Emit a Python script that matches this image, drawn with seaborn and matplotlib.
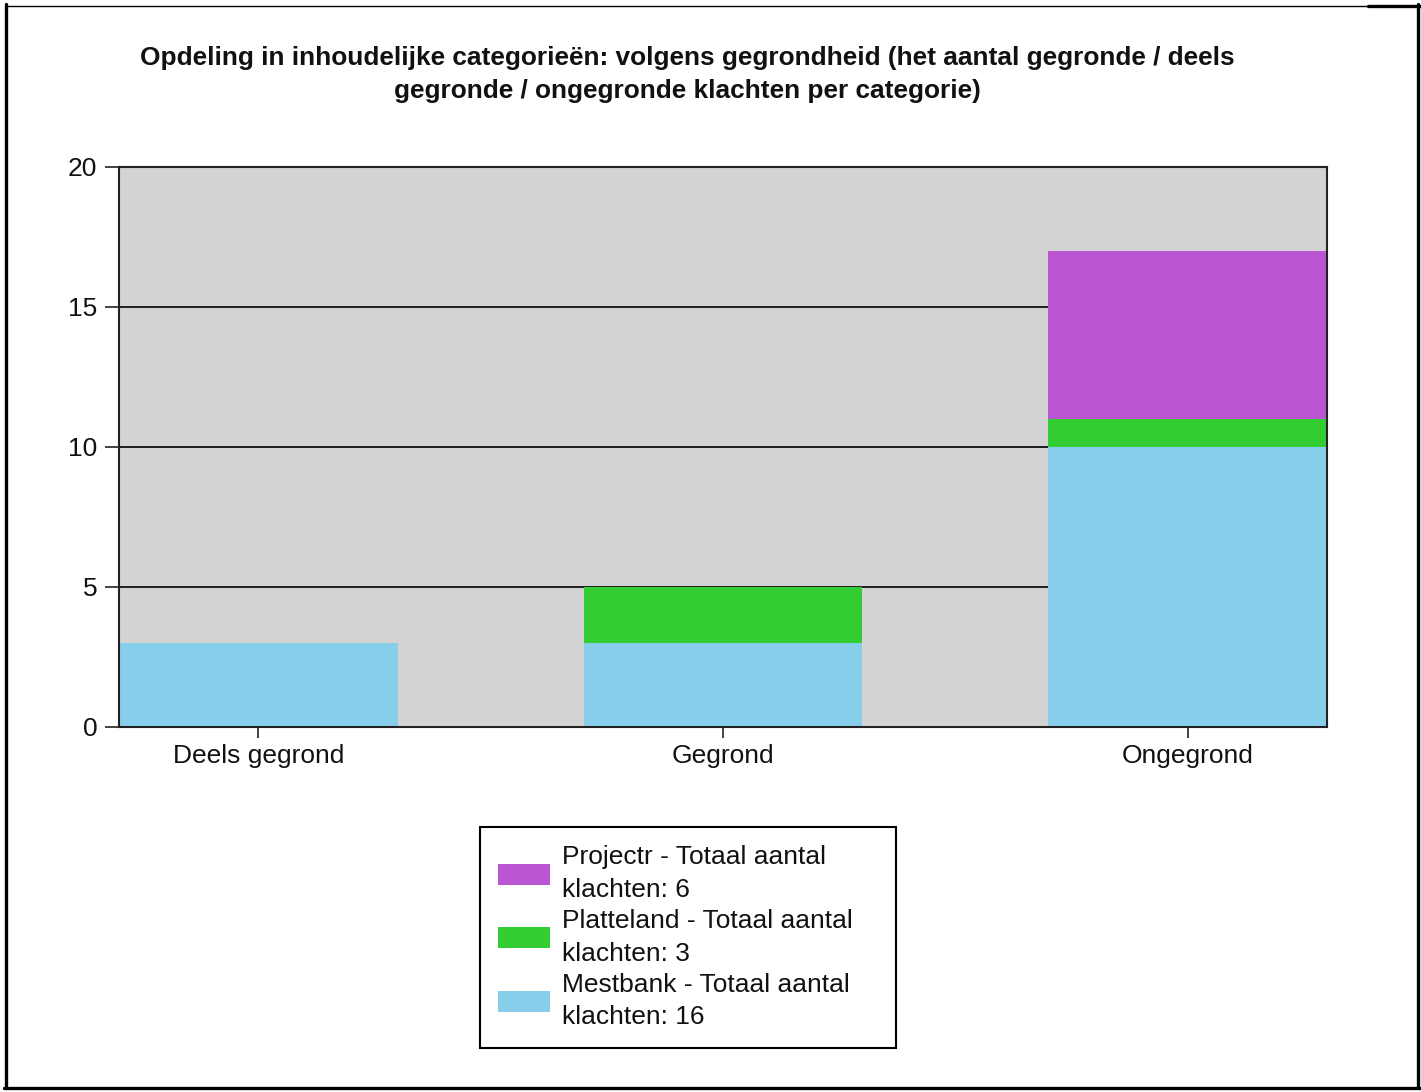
import matplotlib
matplotlib.use('Agg')
import matplotlib.pyplot as plt
from matplotlib.lines import Line2D
from matplotlib.patches import Patch
import seaborn as sns
import pandas as pd

# data
categories = ['Deels gegrond', 'Gegrond', 'Ongegrond']
mestbank = [3, 3, 10]
platteland = [0, 2, 1]
projectr = [0, 0, 6]

series_names = ['Projectr', 'Platteland', 'Mestbank']
colors = {'Projectr': '#BA55D3', 'Platteland': '#32CD32', 'Mestbank': '#87CEEB'}

title = ('Opdeling in inhoudelijke categorieën: volgens gegrondheid (het aantal gegronde / deels\n'
         'gegronde / ongegronde klachten per categorie)')

sns.set_theme(style='white')
plt.rcParams['font.family'] = ['Liberation Sans', 'DejaVu Sans']

df = pd.DataFrame({'categorie': categories, 'Mestbank': mestbank,
                   'Platteland': platteland, 'Projectr': projectr})
# cumulative heights for stacking (tallest drawn first)
df['top'] = df['Mestbank'] + df['Platteland'] + df['Projectr']
df['mid'] = df['Mestbank'] + df['Platteland']

W, H = 1421, 1092
fig = plt.figure(figsize=(W / 100, H / 100), dpi=100)
ax = fig.add_axes([119 / W, 1 - 727 / H, 1208 / W, 560 / H])
ax.set_facecolor('#D3D3D3')

for col, name in [('top', 'Projectr'), ('mid', 'Platteland'), ('Mestbank', 'Mestbank')]:
    sns.barplot(data=df, x='categorie', y=col, color=colors[name], width=0.6,
                saturation=1, errorbar=None, linewidth=0, edgecolor='none', ax=ax)

ax.set_xlim(-0.3, 2.3)
ax.set_ylim(0, 20)
ax.set_yticks([0, 5, 10, 15, 20])
ax.set_xlabel('')
ax.set_ylabel('')
ax.set_axisbelow(True)
ax.yaxis.grid(True, color='black', linewidth=1.2)
ax.xaxis.grid(False)
for s in ax.spines.values():
    s.set_color('#222222')
    s.set_linewidth(1.5)
ax.tick_params(axis='both', which='both', direction='out', width=1.2,
               color='#222222', labelsize=19, labelcolor='#111111')
ax.tick_params(axis='y', length=10, pad=5.5, left=True)
ax.tick_params(axis='x', length=8, pad=4, bottom=True)

fig.text(687 / W, 1 - 74.5 / H, title, ha='center', va='center', multialignment='center',
         fontsize=18.9, fontweight='bold', color='#111111', linespacing=1.48)

totals = {'Projectr': sum(projectr), 'Platteland': sum(platteland), 'Mestbank': sum(mestbank)}
handles = [Patch(facecolor=colors[n], edgecolor='none') for n in series_names]
labels = [f'{n} - Totaal aantal\nklachten: {totals[n]}' for n in series_names]
leg = fig.legend(handles, labels, loc='upper left',
                 bbox_to_anchor=(480 / W, 1 - 827 / H, 416 / W, 0.0),
                 mode='expand', fontsize=19, frameon=True, fancybox=False,
                 edgecolor='black', framealpha=1, handlelength=1.97, handleheight=0.83,
                 handletextpad=0.45, labelspacing=0.25, borderpad=0.7, borderaxespad=0)
leg.get_frame().set_linewidth(1.5)
for t in leg.get_texts():
    t.set_color('#111111')
    t.set_linespacing(1.47)

# outer frame of the picture
def fline(x0, y0, x1, y1, lw):
    fig.add_artist(Line2D([x0 / W, x1 / W], [1 - y0 / H, 1 - y1 / H],
                          transform=fig.transFigure, color='black', linewidth=lw))

fline(5.5, 5.5, 1368, 5.5, 1.0)
fline(1368, 5.5, 1420, 5.5, 2.4)
fline(5.5, 4, 5.5, 1088, 2.4)
fline(1418, 4, 1418, 1088, 2.4)
fline(4, 1088, 1420, 1088, 2.4)

fig.savefig('out.png', dpi=100)
